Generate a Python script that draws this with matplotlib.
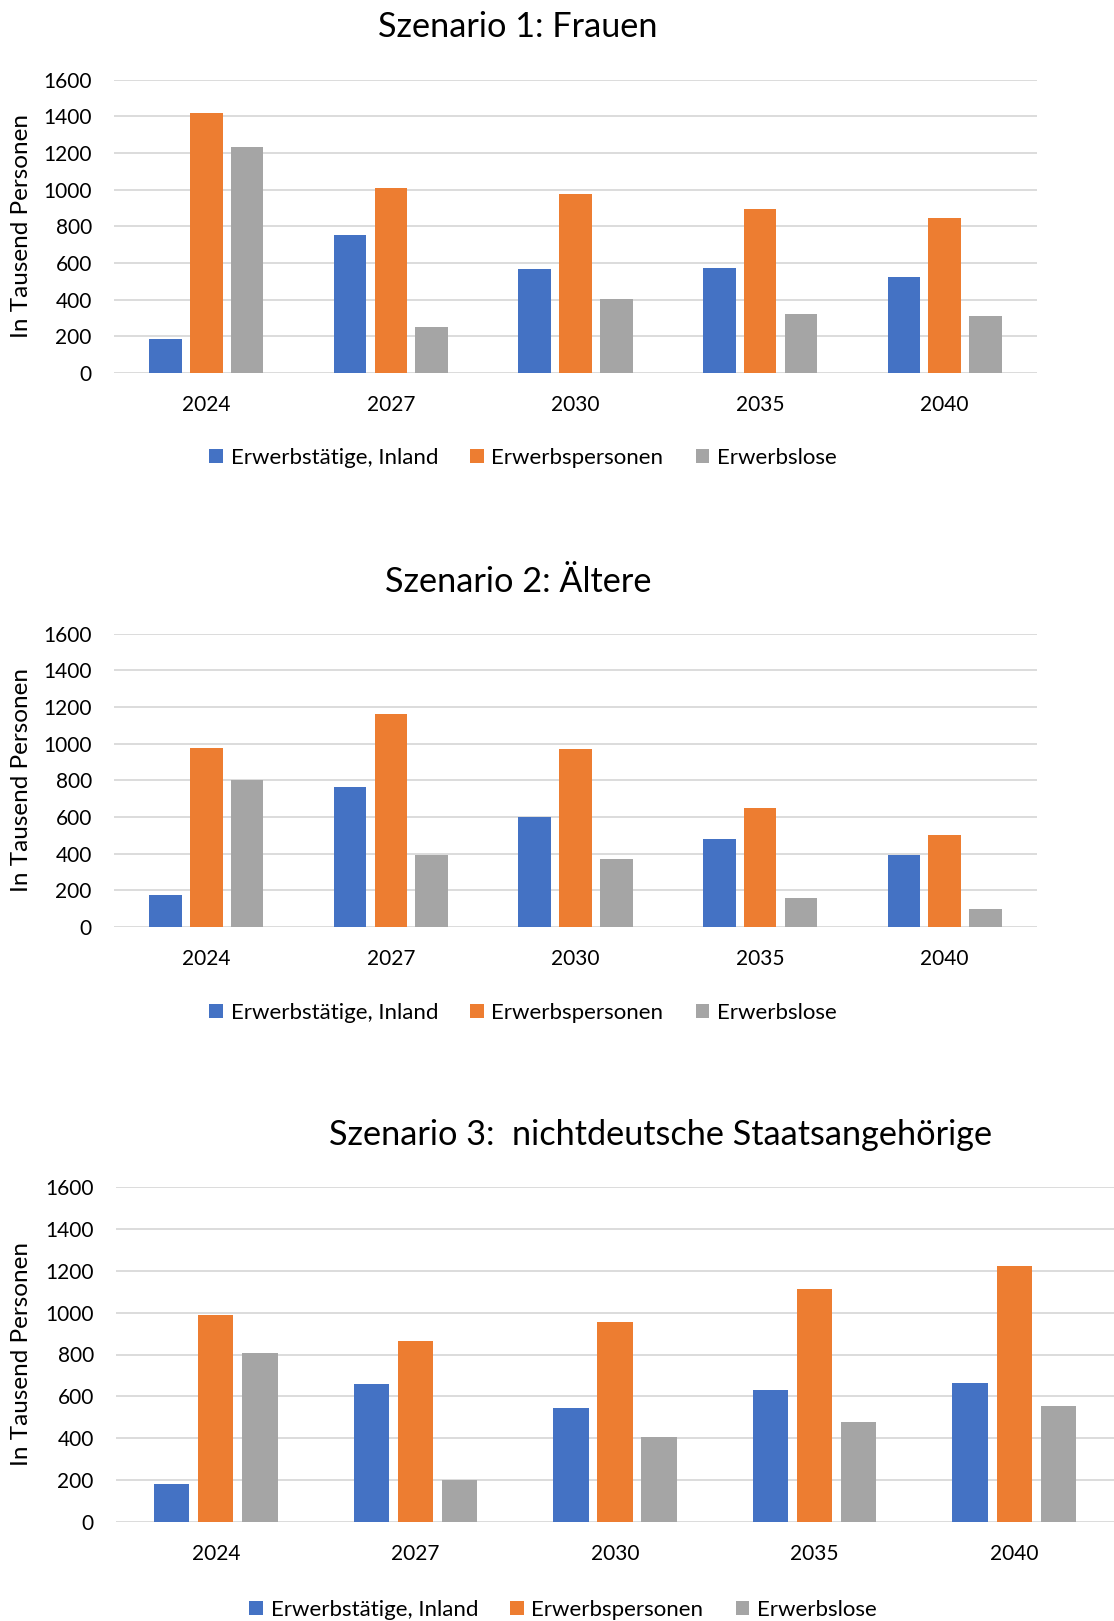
#!/usr/bin/env python
"""Three grouped bar charts: labour force scenarios 2024-2040 (in thousand persons)."""

import matplotlib
matplotlib.use("Agg")
import matplotlib.pyplot as plt  # noqa: E402
import numpy as np  # noqa: E402
from matplotlib.patches import Patch  # noqa: E402


YEARS = ["2024", "2027", "2030", "2035", "2040"]
SERIES = ["Erwerbstätige, Inland", "Erwerbspersonen", "Erwerbslose"]
COLORS = ["#4472C4", "#ED7D31", "#A5A5A5"]

# Szenario 1: Frauen
S1_ERWERBSTAETIGE = [184, 755, 568, 570, 526]
S1_ERWERBSPERSONEN = [1420, 1007, 976, 894, 843]
S1_ERWERBSLOSE = [1232, 249, 402, 322, 313]

# Szenario 2: Ältere
S2_ERWERBSTAETIGE = [173, 763, 599, 482, 391]
S2_ERWERBSPERSONEN = [976, 1161, 970, 646, 499]
S2_ERWERBSLOSE = [801, 395, 368, 158, 100]

# Szenario 3: nichtdeutsche Staatsangehörige
S3_ERWERBSTAETIGE = [183, 658, 543, 629, 666]
S3_ERWERBSPERSONEN = [991, 864, 955, 1111, 1224]
S3_ERWERBSLOSE = [806, 202, 406, 478, 555]

TITLES = ["Szenario 1: Frauen", "Szenario 2: Ältere",
          "Szenario 3:  nichtdeutsche Staatsangehörige"]

W, H = 1114, 1621
FONT = ["Lato", "DejaVu Sans"]
TICK_FS = 15
LEGEND_FS = 16
YLABEL_FS = 17.5
TITLE_FS = 24.7


def fx(px):
    return px / W


def fy(px):
    return 1 - px / H


def draw_panel(fig, rect, series, title, title_xy, legend_xy):
    ax = fig.add_axes(rect)
    x = np.arange(len(YEARS))
    offs = [-0.221, 0.0, 0.221]
    for vals, off, col, name in zip(series, offs, COLORS, SERIES):
        ax.bar(x + off, vals, width=0.177, color=col, label=name, zorder=3)

    ax.set_xlim(-0.5, len(YEARS) - 0.5)
    ax.set_ylim(0, 1600)
    ax.set_yticks(np.arange(0, 1601, 200))
    ax.set_xticks(x)
    ax.set_xticklabels(YEARS)
    ax.grid(axis="y", color="#D9D9D9", lw=1.3, zorder=0)
    for s in ax.spines.values():
        s.set_visible(False)
    ax.tick_params(axis="both", length=0, labelsize=TICK_FS, colors="#000000")
    ax.tick_params(axis="x", pad=15.5)
    ax.tick_params(axis="y", pad=16)
    for lab in ax.get_xticklabels() + ax.get_yticklabels():
        lab.set_family(FONT)

    ax.set_ylabel("In Tausend Personen", fontsize=YLABEL_FS, family=FONT)
    ax.yaxis.set_label_coords(-(rect[0] * W - 32) / (rect[2] * W), 0.5)

    fig.text(title_xy[0], title_xy[1], title, fontsize=TITLE_FS, family=FONT,
             ha="center", va="center")

    handles = [Patch(facecolor=c, label=n) for c, n in zip(COLORS, SERIES)]
    fig.legend(handles=handles, loc="center", bbox_to_anchor=legend_xy,
               bbox_transform=fig.transFigure, ncol=3, frameon=False,
               prop={"family": FONT, "size": LEGEND_FS},
               handlelength=0.6, handleheight=0.6, handletextpad=0.35,
               columnspacing=1.45, borderaxespad=0)
    return ax


def main():
    fig = plt.figure(figsize=(W / 100, H / 100), dpi=100)

    draw_panel(fig, [fx(114), fy(373), fx(1037 - 114), (373 - 79.6) / H],
               [S1_ERWERBSTAETIGE, S1_ERWERBSPERSONEN, S1_ERWERBSLOSE],
               TITLES[0], (fx(518), fy(27)), (fx(523), fy(458)))
    draw_panel(fig, [fx(114), fy(927), fx(1037 - 114), (927 - 633.5) / H],
               [S2_ERWERBSTAETIGE, S2_ERWERBSPERSONEN, S2_ERWERBSLOSE],
               TITLES[1], (fx(518), fy(582)), (fx(523), fy(1013)))
    draw_panel(fig, [fx(116), fy(1522), fx(1114 - 116), (1522 - 1187) / H],
               [S3_ERWERBSTAETIGE, S3_ERWERBSPERSONEN, S3_ERWERBSLOSE],
               TITLES[2], (fx(661), fy(1135)), (fx(563), fy(1610)))

    fig.savefig("out.png", dpi=100)


if __name__ == "__main__":
    main()
